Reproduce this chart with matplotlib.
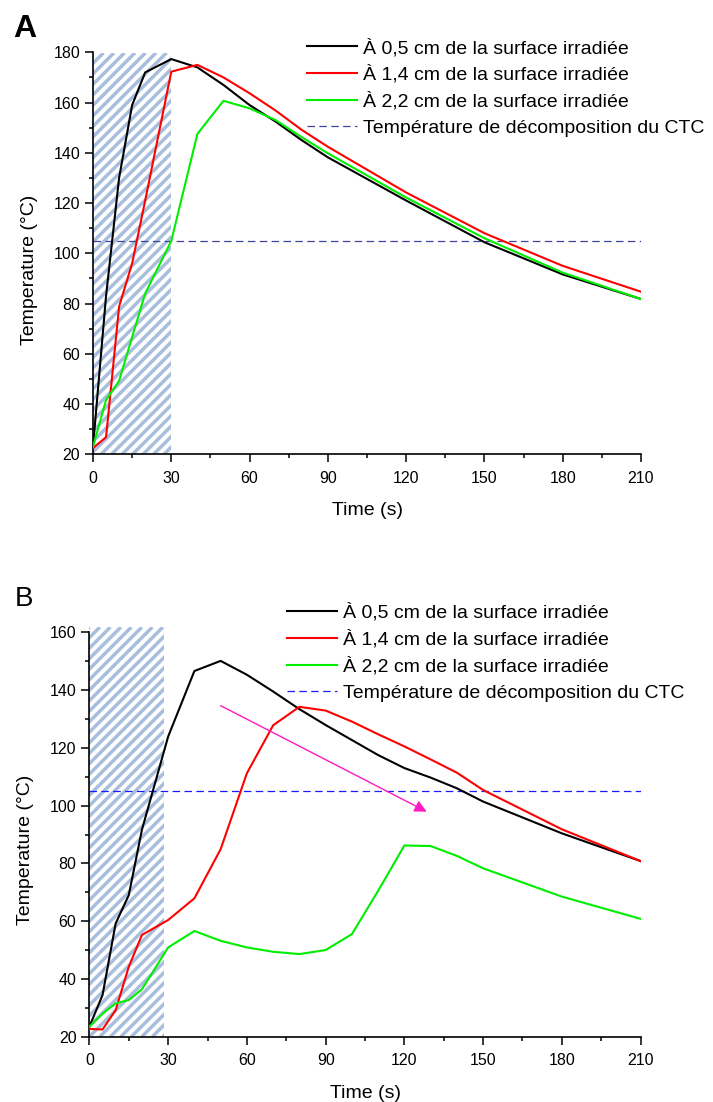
import numpy as np
import matplotlib
matplotlib.use("Agg")
import matplotlib.pyplot as plt
from matplotlib.collections import LineCollection
from matplotlib.patches import Rectangle
from matplotlib.transforms import IdentityTransform
from matplotlib.ticker import MultipleLocator

plt.rcParams["font.family"] = ["Liberation Sans", "DejaVu Sans"]

# ---- data ----
labels = [
    "À 0,5 cm de la surface irradiée",
    "À 1,4 cm de la surface irradiée",
    "À 2,2 cm de la surface irradiée",
]
decomp_label = "Température de décomposition du CTC"
decomp_temp = 105

time_a = [0, 5, 10, 15, 20, 30, 40, 50, 60, 70, 80, 90, 120, 150, 180, 210]
a_05 = [23, 83, 130, 159, 172, 177.3, 174, 167, 159, 152.4, 145, 138.2, 121, 104.4, 91.6, 81.8]
a_14 = [22.5, 26.8, 78.8, 96, 121, 172.3, 175, 170, 163.7, 156.8, 149.1, 142.4, 124.2, 108, 95, 84.7]
a_22 = [23, 41.6, 49.2, 66.7, 84, 104.9, 147.5, 160.7, 157.7, 153, 146.2, 139.8, 122.2, 106, 92.3, 81.8]
irradiation_a = (0, 30)

time_b = [0, 5, 10, 15, 20, 30, 40, 50, 60, 70, 80, 90, 100, 110, 120, 130, 140, 150, 180, 210]
b_05 = [23.5, 34.4, 59.2, 69, 91.6, 123.9, 146.6, 150.1, 145.3, 139.5, 133.4, 127.9, 122.7,
        117.5, 113, 109.7, 106, 101.4, 90.4, 80.8]
b_14 = [22.7, 22.5, 29.2, 44.2, 55.2, 60.4, 67.9, 84.9, 111.2, 127.8, 134.2, 132.9, 129.1,
        124.7, 120.5, 116, 111.4, 105.4, 91.8, 80.8]
b_22 = [23.5, 28, 31.5, 32.7, 36.4, 50.9, 56.6, 53.2, 50.9, 49.4, 48.6, 50, 55.5, 70.5,
        86.2, 86, 82.6, 78.3, 68.5, 60.8]
irradiation_b = (0, 28.5)
arrow_start = (50, 134.6)
arrow_end = (128.5, 97.9)

colors = ["black", "#ff0000", "#00ee00"]
HATCH = "#a8bedc"
MAGENTA = "#ff19c4"


def hatch_span(ax, x0, x1, y0, y1):
    """Light blue diagonal stripes over an x span (drawn in pixels)."""
    rect = Rectangle((x0, y0), x1 - x0, y1 - y0, facecolor="white",
                     edgecolor="none", zorder=0.5, clip_on=False)
    ax.add_patch(rect)
    (px0, py0) = ax.transData.transform((x0, y0))
    (px1, py1) = ax.transData.transform((x1, y1))
    h = py1 - py0
    period = 10.5
    segs = [[(c, py0), (c + h, py1)]
            for c in np.arange(px0 - h - period, px1 + period, period)]
    lc = LineCollection(segs, colors=HATCH, linewidths=2.5,
                        transform=IdentityTransform(), zorder=0.6)
    ax.add_collection(lc, autolim=False)
    lc.set_clip_path(rect)


def style_axes(ax, ymin, ymax, ylab_pos):
    ax.set_xlim(0, 210)
    ax.set_ylim(ymin, ymax)
    ax.spines["top"].set_visible(False)
    ax.spines["right"].set_visible(False)
    for s in ("left", "bottom"):
        ax.spines[s].set_linewidth(1.2)
    ax.xaxis.set_major_locator(MultipleLocator(30))
    ax.xaxis.set_minor_locator(MultipleLocator(15))
    ax.yaxis.set_major_locator(MultipleLocator(20))
    ax.yaxis.set_minor_locator(MultipleLocator(10))
    ax.tick_params(which="major", length=5.8, width=1.1, labelsize=11.5)
    ax.tick_params(axis="x", which="major", pad=6)
    ax.tick_params(axis="y", which="major", pad=3.5)
    ax.tick_params(which="minor", length=3, width=1.1)
    ax.set_xlabel("Time (s)", fontsize=14, labelpad=12)
    ax.set_ylabel("Temperature (°C)", fontsize=14, labelpad=11, y=ylab_pos)


def add_legend(ax, left_px, top_px):
    ax.legend(loc="upper left", bbox_to_anchor=(left_px / 713, 1 - top_px / 1102),
              bbox_transform=fig.transFigure, frameon=False, fontsize=14,
              handlelength=2.55, handletextpad=0.35, labelspacing=0.43,
              borderpad=0, borderaxespad=0)


fig = plt.figure(figsize=(7.13, 11.02), dpi=100)

# ---- panel A ----
ax_a = fig.add_axes([93 / 713, 647.7 / 1102, 548 / 713, 402 / 1102])
style_axes(ax_a, 20, 180, 0.458)
hatch_span(ax_a, irradiation_a[0], irradiation_a[1], 20, 179.8)
for y, c, lab in zip([a_05, a_14, a_22], colors, labels):
    ax_a.plot(time_a, y, color=c, lw=1.5, label=lab, zorder=3)
ax_a.axhline(decomp_temp, color="#4444a0", lw=0.9, dashes=(6, 3.5),
             label=decomp_label, zorder=2)
add_legend(ax_a, 307, 38.5)
fig.text(13 / 713, 1 - 37 / 1102, "A", fontsize=23, fontweight="bold")

# ---- panel B ----
ax_b = fig.add_axes([89.4 / 713, 65.3 / 1102, 551.2 / 713, 404.4 / 1102])
style_axes(ax_b, 20, 160, 0.462)
hatch_span(ax_b, irradiation_b[0], irradiation_b[1], 20, 161.8)
for y, c, lab in zip([b_05, b_14, b_22], colors, labels):
    ax_b.plot(time_b, y, color=c, lw=1.5, label=lab, zorder=3)
ax_b.axhline(decomp_temp, color="#1a1aff", lw=0.9, dashes=(6, 3.5),
             label=decomp_label, zorder=2)
ax_b.annotate("", xy=arrow_end, xytext=arrow_start,
              arrowprops=dict(arrowstyle="-|>", color=MAGENTA, lw=1.0,
                              mutation_scale=18, shrinkA=0, shrinkB=0),
              zorder=4)
add_legend(ax_b, 287, 603.5)
fig.text(15 / 713, 1 - 606 / 1102, "B", fontsize=20)

fig.savefig("out.png", dpi=100)
